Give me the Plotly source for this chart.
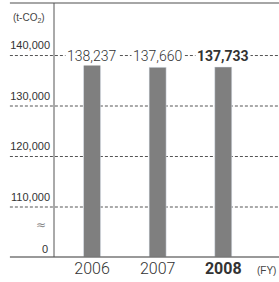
import plotly.graph_objects as go

years = ["2006", "2007", "2008"]
emissions = [138237, 137660, 137733]
year_labels = ["2006", "2007", "<b>2008</b>"]
value_labels = ["138,237", "137,660", "<b>137,733</b>"]
grid_vals = [110000, 120000, 130000, 140000]
grid_text = ["110,000", "120,000", "130,000", "140,000"]
label_row_value = 140000
unit_label = "(t-CO<sub>2</sub>)"
fy_label = "(FY)"

TXT = "#333333"
LEFT_EXT = -0.196  # paper x where the horizontal rules start (left of axis)
LIGHT = dict(family="Roboto, Liberation Sans, Arial", weight=300)

fig = go.Figure()
fig.add_trace(go.Bar(
    x=years, y=emissions, marker_color="#7f7f7f", width=0.26,
    hoverinfo="skip", showlegend=False,
))

shapes = []
for gv in grid_vals:
    shapes.append(dict(type="line", xref="paper", yref="y", x0=LEFT_EXT, x1=1,
                       y0=gv, y1=gv, line=dict(color="#555555", width=1, dash="3px,2px"),
                       layer="below"))
shapes.append(dict(type="line", xref="paper", yref="paper", x0=LEFT_EXT, x1=1, y0=1, y1=1,
                   line=dict(color="#888888", width=1.5)))
shapes.append(dict(type="line", xref="paper", yref="paper", x0=LEFT_EXT, x1=1, y0=0, y1=0,
                   line=dict(color="#777777", width=1.5)))
shapes.append(dict(type="line", xref="paper", yref="paper", x0=0, x1=0, y0=0, y1=1,
                   line=dict(color="#555555", width=1)))

annotations = []
for i, txt in enumerate(value_labels):
    annotations.append(dict(x=i, y=label_row_value, xref="x", yref="y", text=txt,
                            showarrow=False, bgcolor="white", borderpad=1,
                            font=dict(size=14, color=TXT, **LIGHT)))
annotations.append(dict(x=-0.19, y=1, xref="paper", yref="paper", xanchor="left", yanchor="top",
                        yshift=-7, text=unit_label, showarrow=False,
                        font=dict(family="Liberation Sans, Arial", size=10, color="#444444")))
annotations.append(dict(x=-0.06, y=0, xref="paper", yref="paper", xanchor="center", yanchor="middle",
                        yshift=32, text="≈", showarrow=False,
                        font=dict(family="DejaVu Sans", size=12, color="#888888")))
annotations.append(dict(x=-0.018, y=0, xref="paper", yref="paper", xanchor="right", yanchor="middle",
                        yshift=8, text="0", showarrow=False,
                        font=dict(family="Liberation Sans, Arial", size=11, color=TXT)))
annotations.append(dict(x=1, y=0, xref="paper", yref="paper", xanchor="right", yanchor="middle",
                        yshift=-13, xshift=-1, text=fy_label, showarrow=False,
                        font=dict(family="Liberation Sans, Arial", size=10, color="#444444")))

fig.update_layout(
    width=279, height=282,
    margin=dict(l=54, r=0, t=3, b=25, autoexpand=False),
    paper_bgcolor="white", plot_bgcolor="white",
    shapes=shapes, annotations=annotations,
)
fig.update_xaxes(
    type="category", range=[-0.58, 2.85], tickmode="array", tickvals=years, ticktext=year_labels,
    showgrid=False, showline=False, zeroline=False, ticks="", automargin=False,
    tickfont=dict(size=16, color=TXT, **LIGHT),
)
fig.update_yaxes(
    range=[100100, 150400], tickmode="array", tickvals=grid_vals, ticktext=grid_text,
    showgrid=False, showline=False, zeroline=False, ticks="", ticklabelshift=-10,
    ticklabelstandoff=3, automargin=False,
    tickfont=dict(family="Liberation Sans, Arial", size=11, color=TXT),
)

fig.write_html("out.html", config={"displayModeBar": False},
               post_script="document.body.style.margin='0';")
